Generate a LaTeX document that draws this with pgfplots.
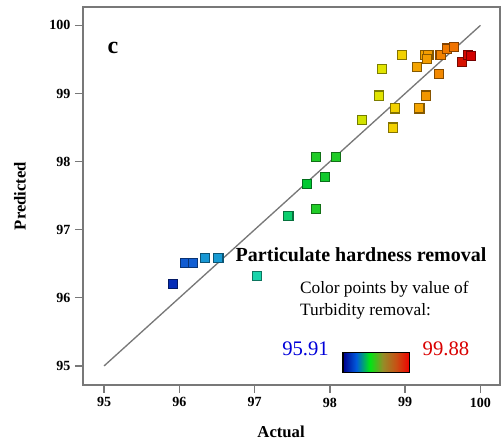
\documentclass[border=0pt]{standalone}
\usepackage{fontspec}
\setmainfont{Liberation Serif}
\usepackage{pgfplots}
\usepackage{pgfplotstable}
\pgfplotsset{compat=1.18}

% actual, predicted, turbidity removal (colour)
\pgfplotstableread{
x      y      m
95.91  96.20  96.05
96.08  96.51  96.30
96.18  96.51  96.32
96.34  96.58  96.60
96.52  96.58  96.62
97.03  96.32  97.00
97.45  97.20  97.20
97.82  97.31  97.50
97.70  97.67  97.40
97.94  97.78  97.45
97.82  98.07  97.50
98.08  98.07  97.50
98.43  98.61  98.20
98.84  98.50  98.60
98.86  98.78  98.60
98.65  98.97  98.30
98.69  99.36  98.30
98.96  99.57  98.60
99.19  98.78  99.00
99.28  98.97  99.10
99.16  99.39  99.00
99.26  99.57  99.00
99.31  99.56  99.05
99.29  99.51  99.05
99.45  99.28  99.20
99.47  99.57  99.25
99.56  99.66  99.30
99.65  99.68  99.35
99.76  99.46  99.80
99.84  99.57  99.85
99.87  99.55  99.88
}\pts

\definecolor{boxgray}{RGB}{120,120,120}

\begin{document}
\begin{tikzpicture}
\begin{axis}[scale only axis, width=312.75pt, height=283.5pt,
  xmin=94.72, xmax=100.26, ymin=94.72, ymax=100.27,
  xtick={95,96,...,100}, ytick={95,96,...,100},
  xticklabel={\textbf{\pgfmathprintnumber{\tick}}},
  yticklabel={\textbf{\pgfmathprintnumber{\tick}}},
  tick align=outside, major tick length=6pt,
  tick style={boxgray, line width=1pt},
  xtick pos=bottom, ytick pos=left,
  axis line style={boxgray, line width=1.5pt},
  /pgf/number format/assume math mode=true,
  ticklabel style={font=\fontsize{10.5}{12}\selectfont\bfseries},
  xlabel={Actual}, ylabel={Predicted},
  label style={font=\fontsize{12.5}{14}\selectfont\bfseries},
  xlabel style={at={(axis description cs:0.475,-0.124)}, anchor=center},
  ylabel style={at={(axis description cs:-0.151,0.5)}, anchor=center},
  colormap={turb}{rgb255(0)=(0,20,170) rgb255(1)=(20,110,220) rgb255(2)=(30,215,200)
    rgb255(3)=(0,200,50) rgb255(4)=(160,220,0) rgb255(5)=(240,230,0)
    rgb255(6)=(245,180,0) rgb255(7)=(240,110,0) rgb255(8)=(210,0,0)},
  point meta min=95.91, point meta max=99.88,
  colorbar horizontal,
  colorbar style={at={(parent axis.south west)}, anchor=south west,
    xshift=195pt, yshift=18pt, scale only axis, width=50pt, height=15pt,
    xtick=\empty, axis line style={black, line width=1pt},
    colormap={bar}{rgb255(0)=(0,0,140) rgb255(1)=(0,90,220) rgb255(2)=(0,230,20)
      rgb255(3)=(150,140,40) rgb255(4)=(200,80,20) rgb255(5)=(240,0,0)}},
  clip=false]
\addplot[boxgray, line width=1pt, forget plot] coordinates {(95,95) (100,100)};
\addplot[scatter, only marks, mark=square*, mark size=3.4pt,
  point meta=explicit,
  scatter/use mapped color={draw=mapped color!55!black, fill=mapped color, line width=0.8pt}]
  table[x=x, y=y, meta=m] {\pts};
\node[font=\fontsize{18}{20}\selectfont\bfseries] at (axis description cs:0.072,0.892) {c};
\node[font=\fontsize{15}{17}\selectfont\bfseries, anchor=west] at (axis description cs:0.355,0.344) {Particulate hardness removal};
\node[font=\fontsize{13}{16.5}\selectfont, anchor=north west, align=left, inner sep=0pt]
  at (axis description cs:0.52,0.275) {Color points by value of\\Turbidity removal:};
\node[font=\fontsize{15.5}{17}\selectfont, text=blue!85!black, anchor=east, inner sep=0pt]
  at (axis description cs:0.59,0.097) {95.91};
\node[font=\fontsize{15.5}{17}\selectfont, text=red!85!black, anchor=west, inner sep=0pt]
  at (axis description cs:0.814,0.097) {99.88};
\end{axis}
\pgfresetboundingbox
\path[use as bounding box] (-62.25pt,-45pt) rectangle (313.5pt,288.75pt);
\end{tikzpicture}
\end{document}
